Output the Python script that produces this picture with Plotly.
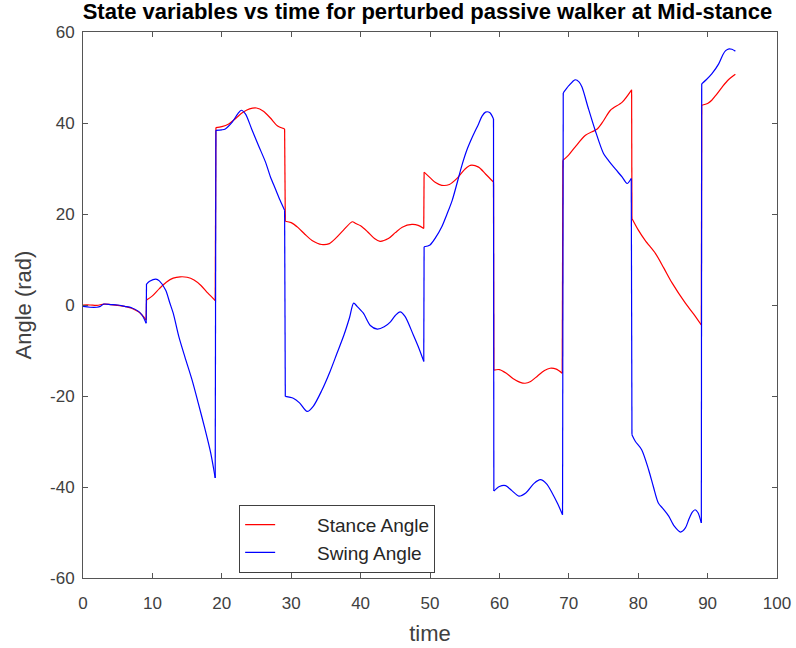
import plotly.graph_objects as go

# ---- data ----
t_stance = [0, 1, 2, 3, 4, 5, 6, 7, 8, 8.5, 9.1,
            9.15, 10, 11, 12, 13, 14, 15, 16, 17, 18, 19.05,
            19.15, 20, 21, 22, 23, 24, 25, 26, 27, 28, 29.05,
            29.15, 30, 31, 32, 33, 34.4, 35.5, 36.5, 37.5, 38.8, 39.3, 40, 41, 42, 42.8, 44, 45, 46, 47.4, 48.3, 49.1,
            49.15, 50, 50.8, 51.7, 52.8, 54, 55, 55.8, 57, 58, 59.15,
            59.2, 60, 61, 62, 63, 63.7, 64.5, 65.5, 66.5, 67.3, 68.2, 69.05,
            69.15, 70, 70.9, 72.4, 74.1, 75, 76, 77.7, 79.05,
            79.1, 80, 81, 82.5, 83.7, 84.9, 86.8, 88, 89.1,
            89.15, 90, 90.6, 91.3, 92.1, 93, 94]
stance = [0, 0, -0.1, 0.2, 0.1, -0.1, -0.3, -0.7, -1.5, -2.2, -3.3,
          1.1, 2.0, 3.6, 5.0, 5.9, 6.2, 6.1, 5.5, 4.3, 2.6, 1.0,
          39.0, 39.2, 39.8, 41.0, 42.3, 43.1, 43.3, 42.6, 41.1, 39.4, 38.7,
          18.4, 18.1, 17.0, 15.5, 14.2, 13.3, 13.5, 14.8, 16.4, 18.3, 17.9, 17.4, 16.1, 14.6, 14.0, 14.6, 15.9, 17.1, 17.7, 17.5, 16.8,
          29.2, 28.0, 26.9, 26.3, 26.5, 28.0, 29.8, 30.7, 30.3, 28.8, 27.0,
          -14.3, -14.2, -15.0, -16.2, -17.0, -17.2, -16.8, -15.6, -14.4, -13.9, -14.1, -15.0,
          31.8, 33.0, 34.7, 37.3, 38.7, 40.5, 42.8, 44.6, 47.3,
          19.0, 16.5, 14.2, 11.3, 8.1, 4.8, 0.4, -2.0, -4.4,
          43.9, 44.3, 45.0, 46.3, 47.9, 49.5, 50.7]

t_swing = [0, 1, 2, 2.5, 3, 4, 5, 6, 7, 8, 8.5, 9.1,
           9.15, 9.6, 10.5, 11, 11.9, 12.5, 13, 13.8, 14.7, 15.7, 16.6, 17.6, 18.4, 19.05,
           19.15, 20, 20.5, 21.5, 22.3, 22.8, 23.4, 24.3, 25.3, 26.3, 27, 27.7, 28.4, 29.05,
           29.15, 30.3, 31.2, 32.3, 33.2, 34.4, 35.6, 36.6, 37.6, 38.4, 39.0, 39.5, 40.4, 41.4, 42.4, 43.4, 44.3, 45.0, 45.7, 46.4, 47.6, 48.4, 49.1,
           49.15, 50, 50.8, 51.7, 52.4, 53.2, 54.6, 55.3, 56.1, 57, 57.5, 58, 58.6, 59.15,
           59.2, 60, 60.9, 61.8, 62.8, 63.8, 65, 65.9, 66.8, 67.6, 68.4, 69.1,
           69.2, 70, 70.9, 71.5, 71.9, 72.8, 73.8, 75.0, 75.7, 76.7, 77.7, 78.4, 79.0,
           79.1, 79.6, 80.5, 81.5, 82.2, 82.9, 83.6, 84.4, 85.2, 86.1, 86.8, 87.3, 87.8, 88.2, 88.6, 89.1,
           89.15, 89.8, 90.6, 91.6, 92.2, 92.6, 93.1, 93.5, 94.0]
swing = [-0.3, -0.5, -0.5, -0.3, 0.2, 0.1, 0, -0.3, -0.6, -1.4, -2.2, -4.0,
         4.6, 5.2, 5.7, 5.3, 3.3, 0.5, -1.8, -6.9, -11.5, -16.4, -21.5, -27.4, -32.5, -38.0,
         38.4, 38.5, 38.7, 40.2, 42.0, 42.8, 42.0, 38.7, 35.0, 31.4, 28.2, 25.6, 23.0, 20.8,
         -20.1, -20.5, -21.5, -23.4, -22.2, -18.8, -14.6, -10.6, -6.6, -2.8, 0.4, -0.3, -1.8, -4.5, -5.3, -4.8, -3.7, -2.3, -1.5, -2.5, -6.6, -9.5, -12.4,
         12.8, 13.2, 14.8, 17.2, 19.8, 23.0, 30.7, 34.0, 36.9, 39.8, 41.5, 42.4, 42.3, 40.9,
         -40.9, -39.9, -39.7, -40.8, -42.0, -41.3, -39.2, -38.4, -39.3, -41.3, -43.7, -46.1,
         46.6, 48.2, 49.5, 49.0, 47.9, 43.3, 38.4, 33.3, 31.8, 29.9, 28.1, 26.7, 27.8,
         -28.5, -30.0, -31.8, -36.2, -40.0, -43.5, -44.8, -46.4, -48.6, -49.9, -49.0, -47.1, -45.5, -45.0, -45.6, -47.9,
         48.6, 49.5, 50.8, 53.0, 55.0, 55.9, 56.3, 56.2, 55.8]

x_ticks = [0, 10, 20, 30, 40, 50, 60, 70, 80, 90, 100]
x_ticklabels = ["0", "10", "20", "30", "40", "50", "60", "70", "80", "90", "100"]
y_ticks = [-60, -40, -20, 0, 20, 40, 60]
y_ticklabels = ["-60", "-40", "-20", "0", "20", "40", "60"]

FONT = "Liberation Sans, Arial, Helvetica, sans-serif"
PAD = "\u00a0" * 7  # pushes legend text right, like MATLAB's longer legend line samples


def split_runs(t, y, gap=0.12):
    """Split a series at the instantaneous jumps (consecutive samples closer than `gap`)."""
    runs, jumps = [], []
    start = 0
    for i in range(1, len(t)):
        if t[i] - t[i - 1] < gap:
            runs.append((t[start:i], y[start:i]))
            jumps.append(([t[i - 1], t[i]], [y[i - 1], y[i]]))
            start = i
    runs.append((t[start:], y[start:]))
    return runs, jumps


fig = go.Figure()
for name, t, y, color, grp in [("Stance Angle", t_stance, stance, "#ff0000", "a"),
                               ("Swing Angle", t_swing, swing, "#0000ff", "b")]:
    runs, jumps = split_runs(t, y)
    first = True
    for rt, ry in runs:
        fig.add_trace(go.Scatter(x=rt, y=ry, mode="lines", name=PAD + name, legendgroup=grp,
                                 showlegend=first,
                                 line=dict(color=color, width=1.2, shape="spline", smoothing=0.8)))
        first = False
    for jt, jy in jumps:
        fig.add_trace(go.Scatter(x=jt, y=jy, mode="lines", name=PAD + name, legendgroup=grp,
                                 showlegend=False, line=dict(color=color, width=1.2)))

axis_common = dict(showline=True, linecolor="#555555", linewidth=1, mirror="ticks",
                   ticks="inside", ticklen=5, tickcolor="#555555", showgrid=False,
                   zeroline=False, automargin=False,
                   tickfont=dict(family=FONT, size=17, color="#404040"))

fig.update_layout(
    width=796, height=648,
    margin=dict(l=83, r=19, t=32, b=70),
    paper_bgcolor="white", plot_bgcolor="white",
    title=dict(text="<b>State variables vs time for perturbed passive walker at Mid-stance</b>",
               x=0.537, xanchor="center", y=0.982, yanchor="middle", yref="container",
               font=dict(family=FONT, size=22, color="#000000")),
    xaxis=dict(range=[0, 100], tickvals=x_ticks, ticktext=x_ticklabels, ticklabelstandoff=10,
               title=dict(text="time", font=dict(family=FONT, size=22, color="#404040"), standoff=13),
               **axis_common),
    yaxis=dict(range=[-60, 60], tickvals=y_ticks, ticktext=y_ticklabels, ticklabelstandoff=4,
               title=dict(text="Angle (rad)", font=dict(family=FONT, size=22, color="#404040"), standoff=12),
               **axis_common),
    legend=dict(x=0.225, y=0.134, xanchor="left", yanchor="top",
                bgcolor="white", bordercolor="#404040", borderwidth=1,
                font=dict(family=FONT, size=19, color="#262626"),
                traceorder="grouped", tracegroupgap=0),
    showlegend=True,
)

fig.write_html("out.html")
